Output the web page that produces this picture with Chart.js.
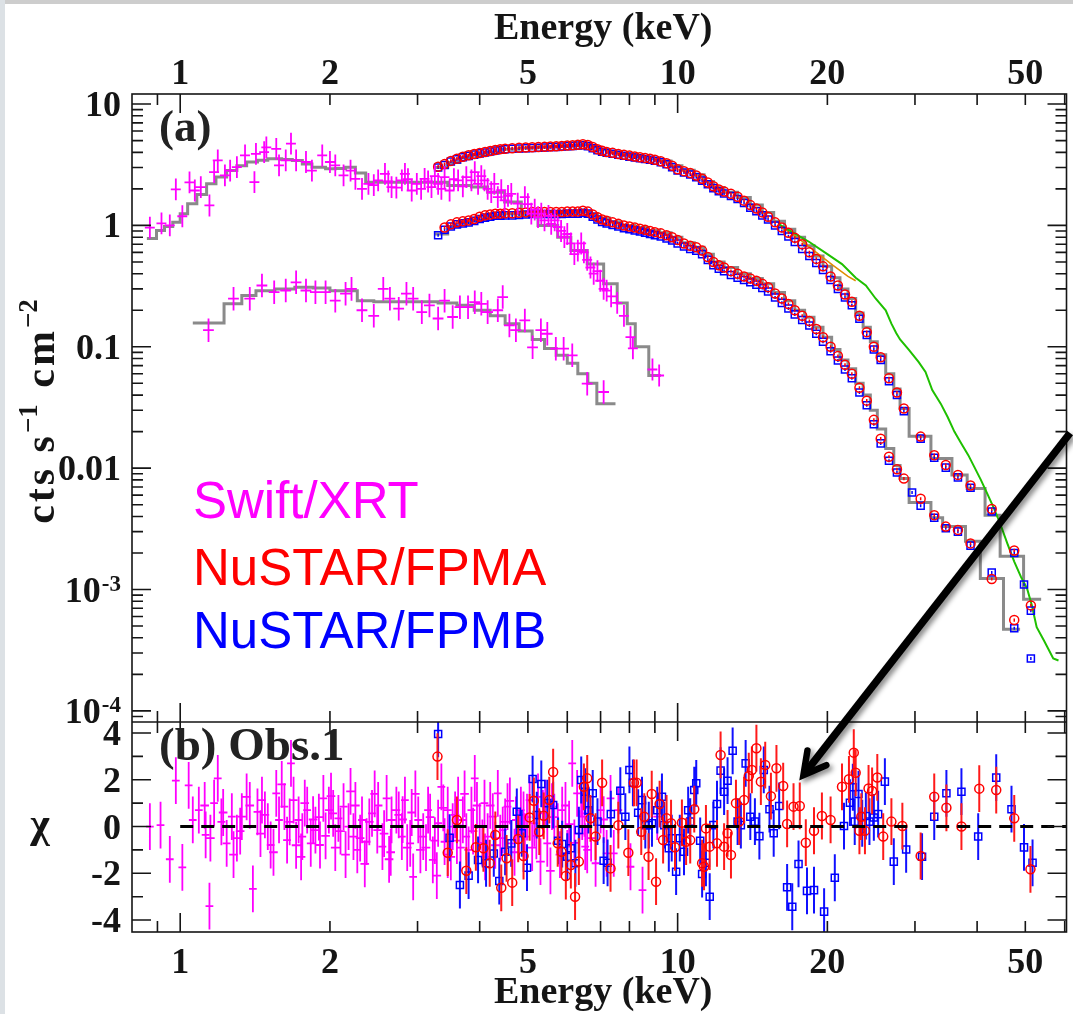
<!DOCTYPE html>
<html>
<head>
<meta charset="utf-8">
<title>Swift/XRT + NuSTAR spectrum</title>
<script src="https://cdn.jsdelivr.net/npm/chart.js@4.4.0/dist/chart.umd.min.js"></script>
<style>
html, body { margin: 0; padding: 0; background: #fff; }
#wrap { position: relative; width: 1073px; height: 1014px; overflow: hidden; background: #fff; }
#spec { position: absolute; left: 0; top: 0; }
#edgeTop { position: absolute; left: 0; top: 0; width: 1073px; height: 4px; background: #cdcdcd; }
#edgeLeft { position: absolute; left: 0; top: 0; width: 5px; height: 1014px; background: #dce1e5; }
</style>
</head>
<body>
<div id="wrap">
  <canvas id="spec" width="1073" height="1014"></canvas>
  <div id="edgeTop"></div>
  <div id="edgeLeft"></div>
</div>
<script>
// ---------- Swift/XRT spectra (keV, cts s^-1 cm^-2) ----------
const xrtHiE = [0.869,0.917,0.953,0.98,1.01,1.044,1.07,1.10,1.145,1.17,
  1.19,1.23,1.26,1.30,1.35,1.41,1.42,1.475,1.49,1.56,
  1.58,1.63,1.67,1.71,1.79,1.84,1.93,2.0,2.05,2.13,
  2.2,2.25,2.32,2.39,2.45,2.5,2.58,2.62,2.66,2.72,
  2.79,2.83,2.87,2.92,2.99,3.05,3.1,3.15,3.2,3.25,
  3.3,3.35,3.4,3.48,3.55,3.62,3.7,3.76,3.85,3.91,
  3.97,4.03,4.09,4.15,4.22,4.28,4.35,4.42,4.49,4.56,
  4.63,4.77,4.93,5.0,5.08,5.16,5.24,5.32,5.4,5.5,
  5.57,5.66,5.74,5.83,5.92,6.0,6.1,6.2,6.3,6.4,
  6.48,6.58,6.68,6.78,6.9,6.99,7.1,7.2,7.35,7.56,
  7.8,8.04,8.13,8.9,9.18];
const xrtHiRate = [0.96,1.04,1.0,1.98,1.19,2.26,1.94,2.07,1.46,2.75,
  3.43,2.58,2.83,3.02,3.77,2.27,3.89,4.02,4.4,4.27,
  3.12,3.43,4.72,3.43,3.33,2.83,3.77,3.33,3.12,2.58,
  2.83,2.42,2.0,2.2,2.15,2.35,2.66,2.3,2.07,2.05,
  2.35,2.66,2.4,1.94,2.2,2.0,2.42,2.3,2.07,2.55,
  2.2,2.0,2.5,1.94,2.4,2.35,2.1,2.5,2.35,2.75,
  2.2,2.55,2.35,2.0,1.88,2.2,1.71,1.95,1.61,1.75,
  1.82,1.51,1.71,1.5,1.25,1.35,1.17,1.25,1.1,1.2,
  1.03,1.1,0.97,0.9,0.80,0.85,0.71,0.58,0.62,0.71,
  0.6,0.52,0.45,0.40,0.42,0.35,0.3,0.29,0.26,0.23,
  0.18,0.12,0.097,0.065,0.058];

const xrtLoE = [1.14,1.28,1.38,1.46,1.545,1.63,1.71,1.79,1.87,1.96,
  2.05,2.15,2.21,2.32,2.45,2.56,2.64,2.75,2.85,2.94,
  3.06,3.17,3.3,3.4,3.53,3.65,3.79,3.91,4.03,4.15,
  4.35,4.45,4.59,4.73,4.93,5.11,5.31,5.47,5.69,5.9,
  6.14,6.58,7.1];
const xrtLoRate = [0.137,0.249,0.249,0.32,0.282,0.291,0.34,0.291,0.282,0.282,
  0.24,0.274,0.30,0.20,0.18,0.30,0.249,0.206,0.274,0.249,
  0.193,0.219,0.171,0.24,0.176,0.212,0.212,0.233,0.226,0.193,
  0.20,0.257,0.150,0.137,0.165,0.099,0.137,0.128,0.0965,0.0965,
  0.085,0.0497,0.0424];

// model step lines (left bin edges, last entry closes the final bin)
const xrtHiModelE = [0.857,0.896,0.93,0.966,1.0,1.035,1.08,1.13,1.18,1.24,
  1.3,1.36,1.43,1.5,1.6,1.68,1.76,1.84,1.96,2.05,
  2.15,2.25,2.36,2.66,3.06,3.45,3.85,4.15,4.49,4.85,
  5.24,5.74,6.1,6.58,7.1,7.56,7.92,8.22,8.75,9.25];
const xrtHiModel = [0.78,0.91,0.98,1.06,1.25,1.51,1.8,2.2,2.5,2.83,
  3.1,3.33,3.45,3.54,3.5,3.43,3.2,3.02,2.93,2.95,
  3.02,2.7,2.27,2.27,2.27,2.13,2.07,1.88,1.56,1.21,
  1.0,0.8,0.62,0.48,0.33,0.23,0.155,0.1,0.058,0.058];
const xrtLoModelE = [1.06,1.225,1.33,1.42,1.55,1.7,1.85,2.0,2.15,2.27,
  2.45,2.7,3.0,3.3,3.6,3.9,4.2,4.5,4.8,5.1,
  5.4,5.7,6.0,6.3,6.6,6.88,7.5];
const xrtLoModel = [0.157,0.226,0.265,0.29,0.3,0.31,0.305,0.29,0.29,0.24,
  0.235,0.235,0.235,0.23,0.22,0.2,0.18,0.155,0.135,0.115,
  0.097,0.085,0.073,0.06,0.05,0.034,0.034];

// ---------- NuSTAR spectra ----------
const nuE = [3.3,3.4,3.5,3.6,3.7,3.8,3.9,4.0,4.1,4.2,4.3,4.4,4.5,
  4.65,4.8,4.95,5.1,5.25,5.4,5.55,5.7,5.85,6.0,6.15,6.3,6.45,6.6,6.75,6.9,7.05,
  7.2,7.4,7.6,7.8,8.0,8.2,8.4,8.6,8.8,9.0,
  9.25,9.5,9.75,10.0,
  10.3,10.6,10.9,11.2,11.5,11.8,12.1,12.4,
  12.8,13.2,13.6,14.0,14.4,14.8,15.2,
  15.7,16.2,16.7,17.2,17.8,18.4,19.0,19.6,
  20.3,21.0,21.7,22.4,23.2,24.0,24.8,25.6,
  26.6,27.6,28.5,29.6,30.8,32.8,34.6,36.6,38.8,42.8,47.5,49.7,51.3];
const fpmaHi = [3.05,3.2,3.4,3.55,3.68,3.78,3.87,3.95,4.03,4.1,4.18,4.25,4.28,
  4.32,4.36,4.38,4.40,4.42,4.44,4.47,4.49,4.52,4.55,4.58,4.61,4.66,4.6,4.42,4.25,4.12,
  4.03,3.96,3.88,3.82,3.76,3.70,3.65,3.6,3.55,3.48,
  3.38,3.26,3.1,2.9,
  2.8,2.7,2.58,2.42,2.26,2.1,1.98,1.9,
  1.82,1.72,1.6,1.47,1.38,1.28,1.18,
  1.06,0.96,0.87,0.79,0.7,0.6,0.53,0.46,
  0.38,0.32,0.27,0.235,0.18,0.132,0.1,0.082,
  0.055,0.042,0.031,null,0.0182,0.0128,0.0106,0.0088,0.0072,0.0046,0.0021,null,0.00074];
const fpmbHi = [3.0,3.15,3.36,3.5,3.64,3.74,3.83,3.92,3.99,4.06,4.14,4.2,4.24,
  4.28,4.31,4.33,4.35,4.37,4.39,4.42,4.44,4.47,4.5,4.52,4.55,4.58,4.5,4.33,4.17,4.05,
  3.97,3.89,3.82,3.75,3.69,3.63,3.58,3.53,3.48,3.41,
  3.31,3.19,3.02,2.83,
  2.73,2.63,2.5,2.34,2.18,2.03,1.91,1.83,
  1.75,1.65,1.53,1.4,1.31,1.21,1.12,
  1.0,0.9,0.81,0.73,0.64,0.56,0.49,0.43,
  0.355,0.3,0.255,0.22,0.17,0.125,0.095,0.078,
  0.052,0.04,0.0295,null,0.0175,0.0122,0.0101,0.0084,0.0069,0.0044,0.0020,0.0011,0.00067];
const fpmaLo = [null,0.96,1.02,1.06,1.08,1.10,1.13,1.18,1.21,1.23,1.25,1.25,1.26,
  1.26,1.27,1.28,1.29,1.29,1.29,1.29,1.29,1.29,1.3,1.3,1.3,1.32,1.3,1.23,1.17,1.12,
  1.09,1.06,1.03,1.0,0.98,0.96,0.94,0.92,0.9,0.88,
  0.86,0.83,0.8,0.76,
  0.71,0.68,0.66,0.62,0.55,0.5,0.47,0.45,
  0.42,0.4,0.38,0.365,0.35,0.33,0.31,
  0.275,0.25,0.225,0.2,0.18,0.163,0.14,0.12,
  0.1,0.084,0.071,0.06,0.046,0.036,0.025,0.0175,
  0.0124,0.0098,0.0082,null,0.0056,0.0041,0.0033,0.0031,0.0024,0.00122,0.00056,null,null];
const fpmbLo = [0.83,0.92,0.98,1.02,1.04,1.06,1.09,1.13,1.16,1.18,1.2,1.2,1.21,
  1.21,1.22,1.23,1.24,1.24,1.24,1.24,1.24,1.24,1.25,1.25,1.25,1.27,1.25,1.18,1.12,1.07,
  1.04,1.01,0.98,0.95,0.93,0.91,0.89,0.87,0.85,0.83,
  0.81,0.78,0.75,0.71,
  0.67,0.64,0.62,0.58,0.52,0.47,0.44,0.42,
  0.39,0.37,0.355,0.34,0.325,0.305,0.285,
  0.255,0.23,0.207,0.185,0.166,0.15,0.128,0.11,
  0.092,0.077,0.065,0.055,0.042,0.033,0.023,0.016,
  0.0115,0.0092,null,0.0063,0.0049,0.0039,0.0032,0.003,0.0023,0.00138,0.00048,null,0.00027];

const nuHiModelE = [3.25,3.45,3.65,3.85,4.1,4.4,4.8,5.2,5.6,6.0,
  6.4,6.65,6.9,7.3,7.7,8.2,8.7,9.2,9.7,10.2,
  10.8,11.3,11.8,12.4,13.2,14.0,14.8,15.6,16.4,17.2,
  18.0,18.8,19.6,20.4,21.2,22.0,22.8,23.6,24.4,25.2,
  26.2,27.2,28.0,29.2,32.3,35.6,38.2,41.5,44.5,49.6,53.8];
const nuHiModel = [3.0,3.3,3.6,3.8,4.0,4.25,4.35,4.42,4.48,4.55,
  4.62,4.45,4.2,4.0,3.85,3.7,3.56,3.4,3.1,2.85,
  2.62,2.3,2.05,1.88,1.7,1.47,1.28,1.08,0.93,0.8,
  0.68,0.56,0.46,0.37,0.3,0.25,0.19,0.145,0.11,0.086,
  0.06,0.045,0.031,0.0183,0.012,0.0088,0.0068,0.0041,0.00188,0.00083,0.00083];
const nuLoModelE = [3.25,3.45,3.65,3.85,4.1,4.4,4.8,5.2,5.6,6.0,
  6.4,6.65,6.9,7.3,7.7,8.2,8.7,9.2,9.7,10.2,
  10.8,11.3,11.8,12.4,13.2,14.0,14.8,15.6,16.4,17.2,
  18.0,18.8,19.6,20.4,21.2,22.0,22.8,23.6,24.4,25.2,
  26.2,27.2,28.0,29.2,32.3,34.1,37.9,40.6,45.2,48.8];
const nuLoModel = [0.85,0.98,1.05,1.1,1.2,1.24,1.27,1.28,1.28,1.29,
  1.3,1.25,1.15,1.07,1.0,0.96,0.91,0.87,0.8,0.72,
  0.66,0.58,0.5,0.45,0.4,0.365,0.33,0.28,0.24,0.2,
  0.175,0.145,0.12,0.095,0.078,0.066,0.05,0.04,0.03,0.021,
  0.0145,0.0105,0.0082,0.0052,0.0039,0.0033,0.0025,0.00123,0.00047,0.00047];

// extra model curves
const greenE = [16.0,17.0,18.4,20.0,21.4,22.8,23.9,25.0,26.2,26.9,27.5,28.0,29.2,30.5,31.5,32.5,
  33.8,34.9,36.0,37.2,38.4,39.5,40.7,41.9,43.2,44.5,46.0,47.5,49.0,50.4,51.5,52.7,54.5,56.9,58.3];
const greenRate = [1.02,0.88,0.73,0.58,0.48,0.37,0.32,0.25,0.2,0.155,0.13,0.115,0.094,0.075,0.062,0.044,
  0.034,0.0264,0.020,0.0159,0.0128,0.0102,0.0080,0.0062,0.0047,0.0035,0.0024,0.0017,0.00127,0.00102,0.00075,0.00049,0.00038,0.00027,0.00026];
const orangeE = [16.0,17.5,19.0,20.5,22.0,22.8];
const orangeRate = [1.0,0.78,0.6,0.47,0.38,0.35];

// ---------- Residuals (chi) ----------
const xrtResE = [0.869,0.913,0.953,0.98,1.01,1.04,1.06,1.09,1.125,1.145,
  1.17,1.19,1.21,1.24,1.27,1.30,1.33,1.36,1.40,1.43,
  1.46,1.50,1.52,1.56,1.58,1.62,1.64,1.67,1.69,1.73,
  1.76,1.80,1.83,1.87,1.91,1.94,1.99,2.03,2.08,2.13,
  2.18,2.23,2.27,2.32,2.37,2.43,2.49,2.55,2.60,2.66,
  2.72,2.79,2.83,2.90,2.94,3.01,3.08,3.15,3.22,3.30,
  3.35,3.40,3.45,3.53,3.62,3.70,3.76,3.85,3.91,4.00,
  4.09,4.15,4.25,4.35,4.45,4.55,4.63,4.73,4.84,4.93,
  5.04,5.15,5.24,5.36,5.47,5.59,5.74,5.86,6.0,6.14,
  6.28,6.4,6.43,6.5,6.52,6.58,6.84,7.0,7.2,7.33,
  7.44,7.6,8.04,8.5,9.1];
const xrtResChi = [0,0.06,-1.4,1.96,-1.75,1.76,0.28,0.7,-0.36,-3.4,
  1.0,2.06,0.2,-0.72,0.42,-0.5,0.42,1.27,-2.67,0.63,
  1.13,0,-0.79,1.42,0.28,0.85,-0.58,2.7,1.13,0.28,
  -0.43,0.7,-0.72,-0.15,-0.79,1.2,0.7,0.56,0.35,0.85,
  0,-0.43,-1.0,0.28,-0.65,0.56,-0.15,-0.86,1.2,0.28,
  0.7,-0.43,1.13,-0.72,-2.15,0.28,-0.43,0.7,-1.43,0.14,
  1.7,-0.65,0.7,0,1.13,0.28,-0.43,0.7,2.06,0,
  1.0,-0.43,0.42,1.42,-0.15,0.85,-0.72,0.28,0.7,-0.43,
  1.13,0.14,1.27,0.56,-0.72,0.85,0,0.7,-1.15,2.7,
  1.42,1.42,0.42,0.56,-0.86,-1.0,-1.57,0.7,-1.15,1.2,
  -1.15,0.7,-1.72,-2.72,0.42];
const xrtRes2E = [1.12,1.28,1.45,1.6,1.75,1.9,2.05,2.2,2.35,2.5,2.65,2.8,2.97,3.12,3.28,3.45,
  3.6,3.8,3.95,4.1,4.3,4.5,4.7,4.9,5.1,5.3,5.55,5.8,6.05,6.35,6.7,7.1,
  1.15,1.22,1.32,1.38,1.48,1.54,1.66,1.71,1.78,1.85,1.96,2.01,2.1,2.15,2.25,2.3,
  2.4,2.46,2.57,2.63,2.75,2.86,2.92,3.04,3.18,3.25,3.38,3.5,3.57,3.66,3.73,3.88,
  4.05,4.2,4.4,4.6,4.8,4.98,5.2,5.42,5.65,5.95,6.2,6.6];
const xrtRes2Chi = [0.9,-1.2,-0.3,1.8,-1.3,0.4,-0.9,1.5,-1.6,0.9,-1.1,0.3,1.4,-0.9,-2.1,-1.2,
  -0.6,-1.0,0.9,-1.3,-0.8,0.2,-1.1,0.5,-0.9,-1.5,-1.9,-1.2,0.1,-0.3,-0.5,0.3,
  -0.5,0.6,-0.2,0.9,0.5,-1.1,0.2,-0.8,1.0,0.3,-0.4,1.3,-0.2,-1.2,0.9,-0.5,
  0.2,1.4,-0.3,-1.4,0.5,-0.9,0.6,-1.0,0.4,-0.6,0.8,-1.3,0.5,-0.9,1.4,-0.2,
  -0.7,0.9,-0.5,1.1,-0.3,0.4,-0.4,1.0,0.4,0.9,-0.7,0.8];

const fpmaResE = [3.29,3.45,3.6,3.76,3.93,4.07,4.19,4.3,4.42,4.53,
  4.65,4.78,4.9,5.04,5.14,5.27,5.38,5.52,5.62,5.74,
  5.84,5.96,6.1,6.22,6.33,6.48,6.58,6.68,6.84,7.05,
  7.33,7.6,7.96,8.17,8.27,8.45,8.57,8.74,8.87,9.05,
  9.2,9.35,9.5,9.7,9.88,10.2,10.4,10.6,10.8,11.2,
  11.3,11.4,11.6,12.0,12.2,12.4,12.6,12.8,13.1,13.3,
  13.6,13.9,14.1,14.4,14.7,15.0,15.4,15.8,16.3,16.6,
  17.1,17.6,18.1,18.8,19.5,20.3,21.4,22.1,22.6,22.8,
  23.2,23.4,23.8,24.2,24.6,25.2,25.9,26.9,28.3,30.8,
  32.8,34.7,37.2,40.4,43.7,47.5,51.2];
const fpmaResChi = [2.99,-1.12,0.28,-1.89,-0.89,-0.93,-1.57,-0.36,-2.62,-1.36,
  -2.4,-0.53,-1.26,0.39,1.1,-0.22,0.46,1.13,2.33,-0.72,
  -1.08,-2.12,-1.65,-3.0,-1.5,1.7,2.06,0.35,-0.43,1.87,
  -1.79,0.06,-1.12,1.87,1.87,-0.22,0.42,-1.29,1.39,-2.36,
  0.96,-0.58,0.35,0.14,-0.89,0.16,-0.65,-0.58,0.74,-1.57,
  -1.72,-0.08,-0.86,-0.72,3.06,-0.86,-0.29,-1.22,1.0,0.21,
  1.13,2.16,2.42,3.35,1.92,2.63,1.3,2.49,1.73,0.11,
  0.85,0.88,-0.69,-0.18,0.45,0.28,1.7,2.02,3.16,2.3,
  -0.18,0.42,-0.18,1.63,1.52,2.1,-0.43,0.21,0.02,-1.26,
  1.27,0.8,0,1.62,1.56,0.35,-1.83];

const fpmbResE = [3.3,3.48,3.65,3.8,3.97,4.12,4.27,4.38,4.5,4.63,
  4.75,4.86,4.98,5.11,5.21,5.32,5.47,5.62,5.75,5.86,
  6.0,6.1,6.23,6.33,6.4,6.52,6.62,6.75,6.9,7.1,
  7.23,7.34,7.67,7.85,8.0,8.13,8.33,8.48,8.61,8.75,
  8.88,9.1,9.3,9.4,9.6,9.73,9.93,10.1,10.3,10.5,
  10.6,10.8,10.9,11.1,11.2,11.4,11.6,11.8,12.0,12.2,
  12.4,12.6,12.9,13.2,13.4,13.7,14.0,14.3,14.6,14.9,
  15.3,15.6,16.0,16.6,17.0,17.5,18.2,18.8,19.7,20.7,
  21.6,22.2,22.5,22.7,23.1,23.5,23.9,24.3,24.8,25.3,
  26.1,27.2,28.8,31.0,32.8,34.7,37.2,40.2,43.7,46.9,
  49.7,51.7];
const fpmbResChi = [3.96,-0.48,-2.5,-2.1,-1.43,-1.57,-1.15,-2.33,-1.08,-0.72,
  0.63,-0.29,-1.76,2.03,0.49,1.82,1.0,0.92,-0.61,-0.75,
  -1.29,-0.93,-1.57,-0.15,1.99,1.49,0.7,1.42,0.21,-1.46,
  -1.55,0.53,1.53,0.42,2.42,1.87,0.59,1.13,0.06,0.06,
  0.14,0.7,1.27,0.06,-0.93,-0.5,-1.93,-0.5,-1.08,0.7,
  0.21,1.56,1.85,-0.61,-2.03,-1.55,-3.0,0.06,0.96,2.39,
  1.49,1.96,3.24,0.21,0.06,2.7,0.42,0.21,-0.41,2.42,
  0.74,-0.29,0.88,-2.6,-3.43,-1.6,-2.75,-2.72,-3.64,-2.19,
  0.02,1.02,1.68,0.21,1.39,0.14,0.45,0.21,0.39,0.53,
  1.92,-1.5,-0.98,-1.29,0.42,1.42,1.49,-0.43,2.09,0.74,
  -0.89,-1.55];

const zeroLineE = [1, 60.5];
const zeroLineChi = [0, 0];

// ---------- Axes / ticks ----------
const energyRange = [0.8, 60.5];
const specRange = [8.1e-5, 12.1];
const chiRange = [-4.51, 4.47];
const xTickVals = [1, 2, 5, 10, 20, 50];
const yTickVals = [10, 1, 0.1, 0.01, 0.001, 0.0001];
const yTickBase = ['10', '1', '0.1', '0.01', '10', '10'];
const yTickSup = ['', '', '', '', '-3', '-4'];
const chiTickVals = [4, 2, 0, -2, -4];

// arrow annotation (tail in spectrum units, tip in residual units)
const arrowTail = { x: 61.5, y: 0.0195 };
const arrowTip = { x: 17.9, chi: 2.2 };

// ---------- Layout ----------
const PLOT = { left: 132, right: 1072, top: 94, split: 722, bottom: 932 };
const W = 1073, H = 1014;

const decPerPx = (Math.log10(specRange[1]) - Math.log10(specRange[0])) / (PLOT.split - PLOT.top);
const yLogMin = Math.pow(10, Math.log10(specRange[0]) - (PLOT.bottom - PLOT.split) * decPerPx);
const chiPerPx = (chiRange[1] - chiRange[0]) / (PLOT.bottom - PLOT.split);
const chiMax = chiRange[1] + (PLOT.split - PLOT.top) * chiPerPx;

const MAGENTA = '#ff00ff', RED = '#ff0000', BLUE = '#0000ff', GRAY = '#8a8a8a';
const SERIF = '"Liberation Serif", "Times New Roman", serif';
const SANS = '"Liberation Sans", Arial, sans-serif';

// ---------- Helpers ----------
function zip(xs, ys) {
  const out = [];
  xs.forEach((x, i) => { if (ys[i] !== null && ys[i] !== undefined) out.push({ x: x, y: ys[i] }); });
  return out;
}

const clipTop = { left: 0, top: 0, right: 0, bottom: -(PLOT.bottom - PLOT.split) };
const clipRes = { left: 0, top: -(PLOT.split - PLOT.top), right: 0, bottom: 0 };

function stepModel(xs, ys) {
  return { type: 'line', data: zip(xs, ys), yAxisID: 'y', stepped: 'before',
    borderColor: GRAY, borderWidth: 3, pointRadius: 0, fill: false, order: 20, clip: clipTop };
}
function curve(xs, ys, color, width) {
  return { type: 'line', data: zip(xs, ys), yAxisID: 'y', borderColor: color,
    borderWidth: width, pointRadius: 0, fill: false, tension: 0, order: 18, clip: clipTop };
}
function crosses(xs, ys, axis, err, order) {
  return { type: 'scatter', data: zip(xs, ys), yAxisID: axis, pointRadius: 0,
    order: order, clip: axis === 'y' ? clipTop : clipRes, err: err };
}
function markers(xs, ys, axis, color, style, order, err) {
  return { type: 'scatter', data: zip(xs, ys), yAxisID: axis,
    pointStyle: style, pointRadius: style === 'rect' ? 5 : 4.5,
    pointBorderColor: color, pointBackgroundColor: 'rgba(0,0,0,0)', pointBorderWidth: 1.5,
    order: order, clip: axis === 'y' ? clipTop : clipRes, err: err };
}

// ---------- Error bars ----------
const errorBars = {
  id: 'errorBars',
  beforeDatasetDraw(chart, args) {
    const ds = chart.data.datasets[args.index];
    if (!ds.err) return;
    const ctx = chart.ctx;
    const xs = chart.scales.x, ys = chart.scales[ds.yAxisID];
    const ca = chart.chartArea;
    const split = chart.scales.y.getPixelForValue(specRange[0]);
    const top = ds.yAxisID === 'y' ? ca.top : split;
    const bottom = ds.yAxisID === 'y' ? split : ca.bottom;
    const e = ds.err;
    ctx.save();
    ctx.beginPath();
    ctx.rect(ca.left, top, ca.right - ca.left, bottom - top);
    ctx.clip();
    ctx.strokeStyle = e.color;
    ctx.lineWidth = e.width;
    ctx.beginPath();
    ds.data.forEach(p => {
      const px = xs.getPixelForValue(p.x);
      const py = ys.getPixelForValue(p.y);
      const lo = e.yFactor ? p.y / e.yFactor : p.y - e.yAbs;
      const hi = e.yFactor ? p.y * e.yFactor : p.y + e.yAbs;
      ctx.moveTo(px, ys.getPixelForValue(lo));
      ctx.lineTo(px, ys.getPixelForValue(hi));
      if (e.xFrac) {
        ctx.moveTo(xs.getPixelForValue(p.x * (1 - e.xFrac)), py);
        ctx.lineTo(xs.getPixelForValue(p.x * (1 + e.xFrac)), py);
      }
    });
    ctx.stroke();
    ctx.restore();
  }
};

// ---------- Frame, ticks, labels, arrow ----------
function isDecade(v) {
  const l = Math.log10(v);
  return Math.abs(l - Math.round(l)) < 1e-9;
}

const decor = {
  id: 'decor',
  afterDraw(chart) {
    const ctx = chart.ctx;
    const xs = chart.scales.x, ys = chart.scales.y, yr = chart.scales.yr;
    const L = chart.chartArea.left, R = chart.chartArea.right;
    const T = chart.chartArea.top, B = chart.chartArea.bottom;
    const S = ys.getPixelForValue(specRange[0]);
    const ink = '#151515';

    ctx.save();
    ctx.strokeStyle = ink;
    ctx.lineWidth = 1.6;
    ctx.strokeRect(L, T, R - L, B - T);
    ctx.beginPath();
    ctx.moveTo(L, S); ctx.lineTo(R, S);

    // energy ticks on every horizontal edge
    for (const dec of [0.1, 1, 10]) {
      for (let m = 1; m <= 9; m++) {
        const v = m * dec;
        if (v <= energyRange[0] || v >= energyRange[1]) continue;
        const px = xs.getPixelForValue(v);
        const len = isDecade(v) ? 19 : 11;
        ctx.moveTo(px, T); ctx.lineTo(px, T + len);
        ctx.moveTo(px, S - len); ctx.lineTo(px, S + len);
        ctx.moveTo(px, B); ctx.lineTo(px, B - len);
      }
    }
    // spectrum ticks
    for (let ex = -5; ex <= 1; ex++) {
      for (let m = 1; m <= 9; m++) {
        const v = m * Math.pow(10, ex);
        if (v < specRange[0] || v > specRange[1]) continue;
        const py = ys.getPixelForValue(v);
        const len = m === 1 ? 19 : 11;
        ctx.moveTo(L, py); ctx.lineTo(L + len, py);
        ctx.moveTo(R, py); ctx.lineTo(R - len, py);
      }
    }
    // chi ticks
    for (let c = -4; c <= 4; c++) {
      const py = yr.getPixelForValue(c);
      const len = c % 2 === 0 ? 19 : 11;
      ctx.moveTo(L, py); ctx.lineTo(L + len, py);
      ctx.moveTo(R, py); ctx.lineTo(R - len, py);
    }
    ctx.stroke();

    // tick labels
    ctx.fillStyle = ink;
    ctx.font = 'bold 36px ' + SERIF;
    ctx.textAlign = 'center';
    ctx.textBaseline = 'alphabetic';
    xTickVals.forEach(v => {
      const px = xs.getPixelForValue(v);
      ctx.fillText(String(v), px, T - 10);
      ctx.fillText(String(v), px, B + 41);
    });

    const labX = L - 11;
    yTickVals.forEach((v, i) => {
      const py = ys.getPixelForValue(v);
      ctx.textAlign = 'right';
      if (yTickSup[i]) {
        ctx.font = 'bold 23px ' + SERIF;
        const supW = ctx.measureText(yTickSup[i]).width;
        ctx.fillText(yTickSup[i], labX, py + 1);
        ctx.font = 'bold 36px ' + SERIF;
        ctx.fillText(yTickBase[i], labX - supW - 1, py + 12);
      } else {
        ctx.font = 'bold 36px ' + SERIF;
        ctx.fillText(yTickBase[i], labX, py + 12);
      }
    });
    ctx.font = 'bold 36px ' + SERIF;
    chiTickVals.forEach(v => {
      const py = yr.getPixelForValue(v);
      ctx.fillText(String(v), labX, py + 12);
    });

    // axis titles
    ctx.textAlign = 'center';
    ctx.font = 'bold 38px ' + SERIF;
    const midX = (L + R) / 2 + 4;
    ctx.fillText('Energy (keV)', midX, 39);
    ctx.fillText('Energy (keV)', midX, 1003);

    ctx.font = 'bold 42px ' + SERIF;
    ctx.fillText('\u03C7', 40, yr.getPixelForValue(0) + 10);

    // rotated y title: cts s^-1 cm^-2
    ctx.save();
    ctx.translate(40, (T + S) / 2 + 2);
    ctx.rotate(-Math.PI / 2);
    const parts = [['c', 42, 0], ['t', 42, 0], ['s', 42, 0], [' ', 42, 0], ['s', 42, 0],
      ['\u22121', 27, -17], [' ', 42, 0], ['c', 42, 0], ['m', 42, 0], ['\u22122', 27, -17]];
    const gap = 3;
    let total = 0;
    parts.forEach(p => { ctx.font = 'bold ' + p[1] + 'px ' + SERIF; total += ctx.measureText(p[0]).width + gap; });
    let cx = -total / 2;
    ctx.textAlign = 'left';
    parts.forEach(p => {
      ctx.font = 'bold ' + p[1] + 'px ' + SERIF;
      ctx.fillText(p[0], cx, 14 + p[2]);
      cx += ctx.measureText(p[0]).width + gap;
    });
    ctx.restore();

    // panel tags
    ctx.textAlign = 'left';
    ctx.fillStyle = '#222';
    ctx.font = 'bold 45px ' + SERIF;
    ctx.fillText('(a)', L + 27, T + 47);
    ctx.font = 'bold 47px ' + SERIF;
    ctx.fillText('(b) Obs.1', L + 27, S + 38);

    // instrument names
    ctx.font = '51px ' + SANS;
    ctx.fillStyle = MAGENTA; ctx.fillText('Swift/XRT', L + 61, 518);
    ctx.fillStyle = RED; ctx.fillText('NuSTAR/FPMA', L + 61, 585);
    ctx.fillStyle = BLUE; ctx.fillText('NuSTAR/FPMB', L + 61, 648);

    // arrow
    const tail = { x: xs.getPixelForValue(arrowTail.x), y: ys.getPixelForValue(arrowTail.y) };
    const tip = { x: xs.getPixelForValue(arrowTip.x), y: yr.getPixelForValue(arrowTip.chi) };
    const ang = Math.atan2(tail.y - tip.y, tail.x - tip.x);
    ctx.shadowColor = 'rgba(0,0,0,0.45)';
    ctx.shadowBlur = 5;
    ctx.shadowOffsetX = 3;
    ctx.shadowOffsetY = 3;
    ctx.strokeStyle = '#000';
    ctx.lineWidth = 7.5;
    ctx.lineCap = 'butt';
    ctx.beginPath();
    ctx.moveTo(tail.x, tail.y);
    ctx.lineTo(tip.x + 5 * Math.cos(ang), tip.y + 5 * Math.sin(ang));
    ctx.stroke();
    ctx.lineWidth = 6.5;
    ctx.lineCap = 'round';
    ctx.lineJoin = 'miter';
    ctx.beginPath();
    ctx.moveTo(tip.x + 25 * Math.cos(ang - 0.5), tip.y + 25 * Math.sin(ang - 0.5));
    ctx.lineTo(tip.x, tip.y);
    ctx.lineTo(tip.x + 25 * Math.cos(ang + 0.5), tip.y + 25 * Math.sin(ang + 0.5));
    ctx.stroke();
    ctx.restore();
  }
};

// ---------- Chart ----------
const datasets = [
  stepModel(xrtHiModelE, xrtHiModel),
  stepModel(xrtLoModelE, xrtLoModel),
  stepModel(nuHiModelE, nuHiModel),
  stepModel(nuLoModelE, nuLoModel),
  curve(greenE, greenRate, '#1fc000', 2),
  curve(orangeE, orangeRate, '#e08c00', 1.5),
  markers(nuE, fpmbHi, 'y', BLUE, 'rect', 8, { yFactor: 1.03, color: BLUE, width: 1.5 }),
  markers(nuE, fpmbLo, 'y', BLUE, 'rect', 8, { yFactor: 1.03, color: BLUE, width: 1.5 }),
  markers(nuE, fpmaHi, 'y', RED, 'circle', 7, { yFactor: 1.03, color: RED, width: 1.5 }),
  markers(nuE, fpmaLo, 'y', RED, 'circle', 7, { yFactor: 1.03, color: RED, width: 1.5 }),
  crosses(xrtHiE, xrtHiRate, 'y', { yFactor: 1.23, xFrac: 0.023, color: MAGENTA, width: 1.8 }, 5),
  crosses(xrtLoE, xrtLoRate, 'y', { yFactor: 1.25, xFrac: 0.025, color: MAGENTA, width: 1.8 }, 5),

  crosses(xrtResE, xrtResChi, 'yr', { yAbs: 1, xFrac: 0.018, color: MAGENTA, width: 1.8 }, 12),
  crosses(xrtRes2E, xrtRes2Chi, 'yr', { yAbs: 1, xFrac: 0.02, color: MAGENTA, width: 1.8 }, 12),
  markers(fpmbResE, fpmbResChi, 'yr', BLUE, 'rect', 10, { yAbs: 1, color: '#1010ff', width: 2 }),
  markers(fpmaResE, fpmaResChi, 'yr', RED, 'circle', 9, { yAbs: 1, color: '#ff1a1a', width: 2 }),
  { type: 'line', data: zip(zeroLineE, zeroLineChi), yAxisID: 'yr', borderColor: '#000',
    borderWidth: 3, borderDash: [13, 8], pointRadius: 0, fill: false, order: 1, clip: clipRes }
];

new Chart(document.getElementById('spec').getContext('2d'), {
  type: 'scatter',
  data: { datasets: datasets },
  options: {
    responsive: false,
    animation: false,
    events: [],
    layout: { padding: { left: PLOT.left, top: PLOT.top, right: W - PLOT.right, bottom: H - PLOT.bottom } },
    plugins: { legend: { display: false }, tooltip: { enabled: false }, title: { display: false } },
    scales: {
      x: { type: 'logarithmic', min: energyRange[0], max: energyRange[1], display: false },
      y: { type: 'logarithmic', min: yLogMin, max: specRange[1], display: false },
      yr: { type: 'linear', min: chiRange[0], max: chiMax, display: false }
    }
  },
  plugins: [errorBars, decor]
});
</script>
</body>
</html>
